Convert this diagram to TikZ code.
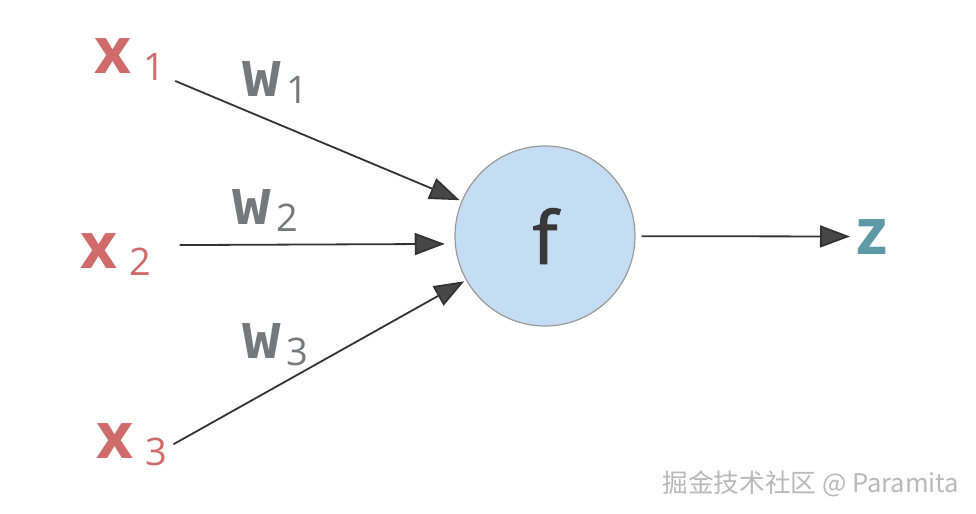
\documentclass[tikz,border=0pt]{standalone}
\usepackage{fontspec}
\setmainfont{Open Sans}
\newfontfamily\cjkfont{Noto Sans CJK SC}
\newfontfamily\wfont{DejaVu Sans Mono}
\newfontfamily\ffont[FakeBold=2]{Open Sans}
\usetikzlibrary{arrows.meta, positioning}
\definecolor{inred}{HTML}{CF6B6B}
\definecolor{wgray}{HTML}{75797C}
\definecolor{zteal}{HTML}{5E9AA5}
\definecolor{cellfill}{HTML}{C4DDF2}
\definecolor{celldraw}{HTML}{9A9A9A}
\definecolor{edgegray}{HTML}{333333}
\newcommand\subidx[2][6pt]{\hspace{#1}\raisebox{-3.5pt}{\fontsize{19}{19}\selectfont\mdseries\rmfamily #2}}
\tikzset{
        ->,  % every connector is directed
        >={Triangle[length=15pt, width=11pt, fill=black!72]}, % big filled heads
        every edge/.style={draw=edgegray, line width=0.9pt},
        input/.style={text=inred, font=\fontsize{32}{32}\selectfont\bfseries, inner sep=3pt, anchor=base west},
        weight/.style={text=wgray, font=\fontsize{32}{32}\selectfont\wfont\bfseries, inner sep=3pt, anchor=base west},
        cell/.style={circle, draw=celldraw, fill=cellfill, line width=0.6pt, minimum size=90pt, inner sep=0pt,
                     text=black!78, font=\fontsize{36}{36}\selectfont\ffont},
        output/.style={text=zteal, font=\fontsize{32}{32}\selectfont\bfseries, inner sep=3pt, anchor=base west}
        }
\begin{document}
\begin{tikzpicture}[x=0.5pt, y=-0.5pt]
        \useasboundingbox (0,0) rectangle (976,514);
        \node[input](x1) at (88,73){x\subidx{1}};
        \node[input](x2) at (74,268){x\subidx{2}};
        \node[input](x3) at (90,458){x\subidx{3}};
        \node[weight](w1) at (236,96){w\subidx[3pt]{1}};
        \node[weight](w2) at (226,224){w\subidx[3pt]{2}};
        \node[weight](w3) at (236,358){w\subidx[3pt]{3}};
        \node[cell](neuron) at (545,236){f};
        \node[output](z) at (850,254){z};
        \path (x1.-26) edge[shorten <=2pt, shorten >=1pt] (neuron)
              (x2.12) edge[shorten <=11pt, shorten >=5pt] (neuron.185)
              (x3.east) edge[shorten >=1pt] (neuron)
              (neuron) edge[shorten <=3pt] (z);
        % watermark
        \node[text=gray!55, font=\fontsize{12.8}{14}\cjkfont](mark) at (811,484){掘金技术社区 @ Paramita};
\end{tikzpicture}
\end{document}
